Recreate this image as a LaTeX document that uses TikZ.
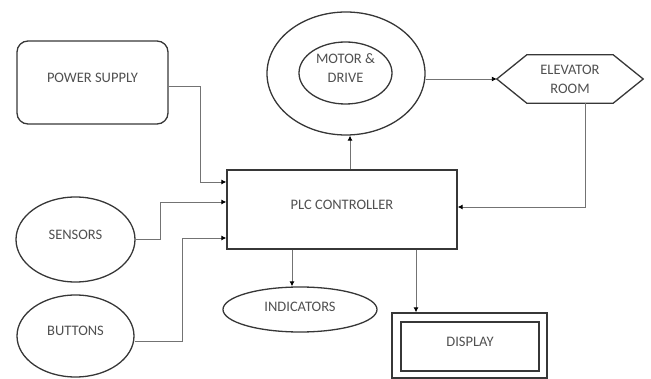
\documentclass[tikz,border=0pt]{standalone}
\usepackage{fontspec}
\setmainfont{Carlito}
\usetikzlibrary{arrows.meta,shapes.geometric}
\definecolor{txtc}{RGB}{80,80,80}
\definecolor{shapec}{RGB}{55,55,55}
\definecolor{connc}{RGB}{115,115,115}
\begin{document}
\begin{tikzpicture}[x=1pt,y=-1pt,
  every node/.style={font=\fontsize{14.5}{19}\selectfont, text=txtc, inner sep=0pt},
  box/.style={draw=shapec, line width=1.3pt},
  upshift/.style={text height=10pt, text depth=10pt},
  conn/.style={draw=connc, line width=0.9pt},
  arr/.style={conn, -{Latex[length=5pt,width=5pt,color=black]}}]
\useasboundingbox (0,0) rectangle (651,379);
% nodes
\node[box, rectangle, rounded corners=11pt, minimum width=151, minimum height=83, upshift] (ps) at (92.5,82.5) {POWER SUPPLY};
\node[box, rectangle, minimum width=230, minimum height=79, upshift] (plc) at (342,209.5) {PLC CONTROLLER};
\node[box, ellipse, minimum width=119, minimum height=85, upshift] (sens) at (75.5,239.5) {SENSORS};
\node[box, ellipse, minimum width=117, minimum height=82, upshift] (btn) at (75.5,336) {BUTTONS};
\node[box, ellipse, minimum width=158, minimum height=123] (motor) at (346,73.5) {};
\node[box, ellipse, minimum width=93, minimum height=62] (mdi) at (345.5,73) {};
\node[align=center] (mdt) at (345.5,68) {MOTOR \&\\DRIVE};
\node[rectangle, minimum width=146, minimum height=48, align=center] (elev) at (570,79) {ELEVATOR\\ROOM};
\draw[box] (elev.west) -- ([xshift=30pt]elev.north west) -- ([xshift=-30pt]elev.north east) -- (elev.east) -- ([xshift=-30pt]elev.south east) -- ([xshift=30pt]elev.south west) -- cycle;
\node[box, ellipse, minimum width=154, minimum height=45, text height=10pt, text depth=5pt] (ind) at (300,309.5) {INDICATORS};
\node[box, rectangle, minimum width=155, minimum height=65] (dispo) at (469.5,345.5) {};
\node[box, rectangle, minimum width=138, minimum height=49, upshift] (disp) at (470,346.5) {DISPLAY};
% connectors
\draw[arr] (ps.east |- 0,86) -| (200,182) -- (plc.west |- 0,182);
\draw[arr] (sens.east) -| (160,202) -- (plc.west |- 0,202);
\draw[arr] (btn.east |- 0,341) -| (182,238) -- (plc.west |- 0,238);
\draw[arr] (plc.north -| 350,0) -- (motor.south -| 350,0);
\draw[arr] (motor.east |- 0,79) -- (elev.west);
\draw[arr] (elev.south -| 585,0) |- (plc.east |- 0,207);
\draw[arr] (plc.south -| 292,0) -- (ind.north -| 292,0);
\draw[arr] (plc.south -| 416,0) -- (dispo.north -| 416,0);
\end{tikzpicture}
\end{document}
